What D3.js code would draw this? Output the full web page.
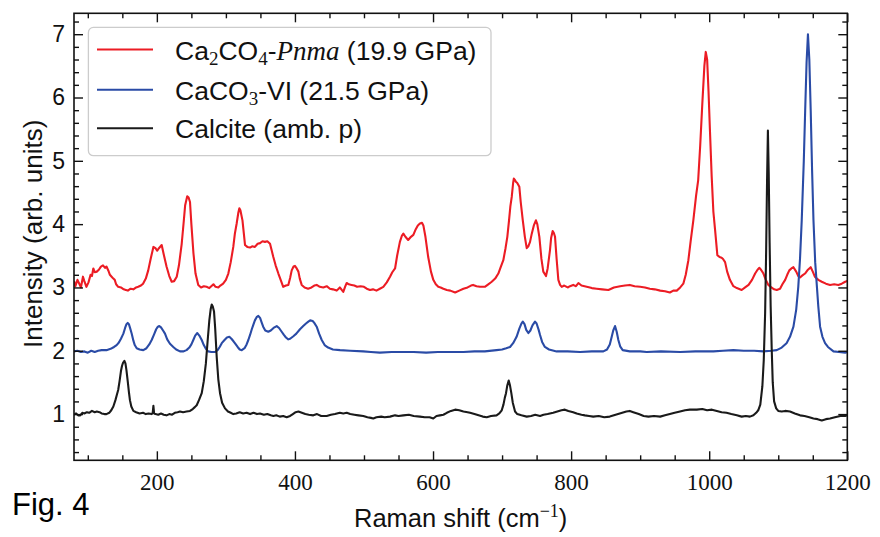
<!DOCTYPE html>
<html>
<head>
<meta charset="utf-8">
<script src="https://cdn.jsdelivr.net/npm/d3@7"></script>
<style>
  html, body { margin: 0; padding: 0; background: #fff; }
  svg { display: block; }
</style>
</head>
<body>
<svg id="chart" width="880" height="537"></svg>
<script>
// Raman spectra: [Raman shift (cm^-1), intensity (arb. units, offset)]
const pnmaSpectrum = [
  [80,3.10],[82,3.02],[85,3.12],[88,3.05],[90,3.0],[93,3.17],[95,3.10],[98,3.01],[101,3.08],[104,3.20],
  [106,3.18],[108,3.30],[110,3.24],[113,3.25],[116,3.28],[119,3.33],[122,3.35],[125,3.31],[127,3.33],[130,3.26],
  [132,3.20],[134.5,3.17],[137,3.14],[139,3.12],[141,3.05],[144,3.01],[148,3.0],[152,2.97],[155,2.96],[158,2.95],
  [162,2.98],[166,2.97],[170,3.0],[173,3.01],[177,3.03],[180,3.06],[184,3.14],[187.5,3.27],[191,3.45],[195,3.64],
  [198,3.62],[200.5,3.58],[203,3.62],[207,3.67],[210,3.52],[214,3.33],[218,3.18],[221.5,3.09],[225,3.10],[228.8,3.17],
  [232,3.35],[236,3.69],[239,4.05],[241,4.30],[244,4.44],[246,4.42],[248,4.35],[250,4.0],[253,3.54],[256,3.22],
  [260,3.04],[264,3.0],[268,3.02],[272,3.01],[276,2.99],[280,3.03],[282,3.05],[285,3.01],[289,3.0],[292,3.03],
  [296,3.06],[300,3.12],[303.5,3.22],[307,3.40],[310.7,3.64],[313,3.85],[315.6,4.01],[318,4.18],[319.5,4.25],[321,4.22],
  [324,4.06],[326,3.85],[327.7,3.67],[331,3.64],[335,3.63],[338,3.65],[342,3.64],[346,3.69],[349.4,3.70],[353,3.73],
  [356.6,3.72],[360,3.73],[363.9,3.69],[366,3.60],[368.7,3.48],[372,3.35],[376,3.22],[380,3.10],[383,3.01],[387,3.03],
  [390.4,3.04],[393,3.15],[395.3,3.27],[398,3.33],[400,3.34],[402,3.31],[405,3.25],[407,3.14],[409.8,3.04],[414,3.0],
  [419,2.98],[424,3.0],[428,3.03],[431.5,3.04],[436,3.01],[441,3.0],[446,3.02],[450.6,2.98],[455,2.97],[460.5,2.95],
  [465,3.0],[470,2.93],[473,3.02],[475,3.07],[478,3.05],[482,3.04],[486,3.03],[490,3.01],[495,3.02],[500,3.01],
  [504,2.98],[508.7,2.96],[513,2.97],[518,2.95],[523,2.98],[528,3.01],[533,3.08],[537.7,3.17],[541,3.24],[545,3.30],
  [548,3.50],[552,3.72],[555,3.82],[557,3.85],[560,3.80],[564,3.75],[568,3.80],[571.5,3.83],[575,3.92],[578,3.98],
  [581,4.01],[584,4.02],[586,3.98],[589,3.80],[593,3.48],[597,3.25],[600.4,3.12],[604,3.05],[607.6,3.01],[611,3.0],
  [615,2.98],[620,2.96],[625,2.95],[632,2.92],[638,2.95],[644,2.98],[650,3.0],[655,3.03],[658,3.04],[663,3.02],
  [668,3.01],[675,3.01],[680,3.05],[685,3.09],[690,3.14],[694.6,3.22],[698,3.32],[701.8,3.43],[705,3.62],[707.6,3.80],
  [710,4.05],[712,4.28],[714,4.43],[716,4.65],[717,4.72],[719,4.69],[720,4.67],[722,4.65],[725,4.59],[727,4.35],
  [730,4.06],[733,3.80],[735.7,3.62],[738,3.65],[740.5,3.72],[743,3.85],[746,3.98],[749,4.06],[751,4.00],[754,3.80],
  [757,3.45],[759.7,3.25],[763.6,3.18],[766,3.30],[769.4,3.59],[771,3.78],[773.3,3.89],[775,3.86],[776.7,3.80],[779,3.45],
  [781.5,3.12],[784,3.04],[786.4,3.01],[790,3.03],[795,3.0],[798.4,3.02],[803,3.04],[807,3.02],[810.5,3.07],[815,3.03],
  [822.6,3.01],[830,2.99],[837,2.98],[845,2.97],[854,2.96],[862,3.0],[871,3.02],[878,3.03],[885,3.04],[892,3.02],
  [900,3.01],[907,3.0],[914,2.98],[921,2.97],[929,2.95],[936,2.94],[943,2.92],[948,2.95],[953,2.95],[958,3.0],
  [962.5,3.06],[966,3.20],[969.8,3.43],[973,3.72],[977,4.06],[981,4.45],[984,4.69],[987,5.25],[990,5.90],[993,6.50],
  [995,6.72],[997,6.60],[999,6.10],[1001,5.50],[1003.6,4.75],[1006,4.2],[1008.5,3.91],[1011.8,3.51],[1015,3.48],[1018,3.47],
  [1020,3.45],[1023,3.40],[1026,3.25],[1030,3.12],[1035,3.02],[1040,2.99],[1047,2.96],[1052,3.0],[1057,3.04],[1062,3.12],
  [1066.5,3.22],[1070,3.28],[1072.7,3.31],[1075,3.28],[1078.5,3.22],[1082,3.12],[1085.7,3.04],[1090,3.0],[1094,2.97],[1097.8,2.96],
  [1102.6,2.98],[1106,3.05],[1110,3.12],[1113,3.20],[1116,3.27],[1119,3.30],[1122,3.32],[1126,3.25],[1129,3.18],[1131.6,3.16],
  [1135,3.19],[1138.8,3.22],[1143,3.28],[1147,3.32],[1150,3.25],[1153,3.17],[1158,3.12],[1163,3.09],[1169,3.06],[1175,3.04],
  [1181,3.05],[1187,3.04],[1192,3.06],[1197,3.09],[1200,3.10]
];

const caco3viSpectrum = [
  [80,1.99],[85,2.0],[90,1.98],[95,1.99],[100,1.97],[105,2.0],[110,1.98],[115,2.0],[120,2.01],[127,2.01],
  [133,2.03],[138,2.06],[141.8,2.09],[145,2.13],[148,2.19],[151.5,2.27],[154,2.36],[156,2.42],[157.8,2.44],[159.5,2.42],
  [161.5,2.35],[163.6,2.27],[166,2.16],[168,2.09],[170.8,2.04],[175,2.02],[180.4,2.01],[185,2.04],[189,2.10],[192.5,2.17],
  [196,2.26],[199,2.34],[201.5,2.38],[203.6,2.39],[206,2.37],[209,2.32],[211.8,2.27],[215,2.18],[219,2.11],[223.8,2.06],
  [228,2.02],[233.5,1.99],[238,1.99],[243,2.01],[247,2.05],[250,2.10],[252.8,2.17],[255.5,2.24],[258.6,2.28],[261.5,2.24],
  [265,2.17],[268,2.09],[271,2.03],[274.5,1.99],[279,1.98],[284,1.98],[288,2.01],[291,2.06],[294,2.12],[298,2.17],
  [301.5,2.21],[305,2.22],[308,2.19],[311,2.15],[313,2.12],[317,2.06],[320,2.02],[323,2.01],[327,2.04],[330,2.10],
  [332.5,2.17],[335,2.25],[337.5,2.34],[339.7,2.41],[342,2.48],[344.5,2.53],[347,2.55],[349.5,2.52],[352,2.44],[354,2.38],
  [357,2.32],[361.4,2.30],[365,2.32],[369,2.36],[373.6,2.39],[377,2.36],[380.8,2.30],[384,2.25],[387,2.21],[390.4,2.18],
  [393,2.19],[397.7,2.23],[402,2.27],[407.3,2.34],[412,2.39],[416,2.43],[419.4,2.46],[422,2.48],[425.7,2.47],[428,2.44],
  [431.5,2.38],[435,2.27],[438.8,2.17],[443,2.09],[448,2.05],[455,2.02],[465.3,2.01],[480,2.0],[499,1.99],[510,1.98],
  [523,1.97],[540,1.98],[560,1.98],[572,1.98],[590,1.97],[607,1.98],[625,1.98],[644,1.98],[660,1.99],[675,1.99],
  [692,2.01],[700,2.02],[706,2.04],[711.5,2.06],[716,2.12],[721,2.22],[725,2.35],[728,2.43],[730,2.46],[732.5,2.42],
  [735,2.33],[738,2.28],[741,2.32],[744,2.40],[747.7,2.46],[750,2.43],[753,2.33],[755,2.25],[758,2.14],[762,2.06],
  [768,2.02],[779,1.99],[795,1.99],[813,1.98],[830,1.99],[846.7,1.99],[852,2.02],[856,2.10],[858.8,2.22],[861,2.32],
  [863.6,2.39],[866,2.30],[868.4,2.17],[871,2.07],[874.7,2.01],[885,1.99],[900,1.99],[909.5,1.98],[930,1.99],[958,1.98],
  [980,1.99],[1006,1.99],[1020,2.0],[1035,2.01],[1050,2.0],[1065,2.0],[1078.5,1.99],[1090,2.0],[1097.8,2.01],[1105,2.05],
  [1112,2.12],[1117,2.22],[1122,2.38],[1126,2.65],[1129,3.01],[1131.5,3.45],[1134,4.06],[1137,5.0],[1139,5.8],[1141,6.55],
  [1143,7.0],[1145,6.6],[1147,5.8],[1149,4.85],[1151,4.06],[1153.5,3.40],[1156,3.01],[1158,2.70],[1160.6,2.38],[1164,2.22],
  [1167.8,2.12],[1172,2.06],[1180,1.99],[1188,1.98],[1197,1.97],[1200,1.98]
];

const calciteSpectrum = [
  [80,0.99],[83,1.01],[86,0.98],[89,0.98],[92,1.02],[95,1.01],[98.6,1.03],[102,1.02],[106,1.05],[110,1.03],
  [113,1.04],[117,1.03],[120,1.01],[124,1.0],[127,1.0],[131,1.02],[134,1.06],[137,1.12],[140,1.22],[142,1.30],
  [144,1.38],[146,1.52],[148,1.68],[149.5,1.76],[151,1.81],[153,1.84],[154.5,1.80],[156,1.69],[158,1.50],[159.5,1.35],
  [161,1.22],[163,1.12],[166,1.05],[170,1.03],[175,1.01],[180,1.02],[184,1.0],[188,1.01],[192.5,1.00],[194,1.02],
  [195,1.13],[196,1.01],[198,1.0],[202,0.99],[206,1.01],[210,0.99],[214,0.98],[218,1.0],[222,0.99],[226,1.02],
  [230,1.03],[233.5,1.04],[238,1.03],[243,1.04],[248,1.05],[252,1.08],[255,1.11],[257.7,1.14],[261,1.22],[265,1.33],
  [268,1.52],[271,1.80],[273.5,2.15],[276,2.48],[278,2.66],[279.5,2.73],[281,2.70],[282.8,2.62],[284.5,2.35],[286.7,1.90],
  [289,1.55],[291.5,1.33],[294.5,1.18],[298.7,1.09],[303,1.04],[307,1.02],[310.7,1.0],[315,1.01],[320,1.03],[325,1.01],
  [330,1.02],[335,1.0],[340,1.02],[345,1.0],[349.4,1.01],[355,0.99],[360,1.0],[365,0.98],[368.7,0.97],[373,0.98],
  [378,0.96],[383,0.97],[388,0.95],[393,0.97],[397,1.0],[401,1.03],[405,1.04],[410,1.02],[415,1.0],[420,0.99],
  [426.6,0.98],[432,1.0],[438,0.97],[446,0.97],[452,0.99],[458,1.0],[465,1.02],[470,1.01],[475,1.02],[480,1.0],
  [486,0.99],[492,0.98],[499,0.97],[505,0.95],[510,0.94],[513.5,0.93],[518,0.95],[525,0.96],[530,0.95],[537.7,0.96],
  [545,0.98],[550,0.97],[557,0.98],[565,0.99],[572,0.97],[581,0.96],[588,0.95],[595,0.95],[600.4,0.93],[605,0.97],
  [610,0.98],[615,0.99],[620,1.02],[626,1.05],[632,1.07],[638,1.06],[644,1.04],[650,1.03],[653.6,1.02],[660,1.0],
  [666,0.98],[672,0.96],[677.8,0.95],[684,0.97],[692,0.98],[696,1.01],[699.5,1.06],[702,1.15],[704,1.26],[705.7,1.33],
  [707.5,1.45],[709.6,1.53],[711.5,1.45],[713.4,1.33],[715.5,1.18],[718.8,1.04],[722,1.0],[728,0.98],[735.7,0.96],[742,0.97],
  [748,0.99],[755,0.97],[760,0.99],[766,1.0],[774,1.02],[780,1.04],[786,1.06],[791,1.07],[796,1.05],[803,1.03],
  [808,1.01],[815,0.99],[820,0.98],[826,0.97],[832,0.96],[840,0.97],[848,0.95],[856,0.96],[862,0.98],[868,1.0],
  [874,1.02],[880,1.04],[885,1.05],[890,1.03],[898,1.0],[905,0.97],[912,0.96],[920,0.97],[929,0.96],[936,0.98],
  [943,1.0],[950,1.02],[957.7,1.04],[965,1.06],[972,1.07],[982,1.07],[990,1.08],[997,1.06],[1004,1.07],[1011,1.05],
  [1018,1.03],[1025,1.02],[1032,1.0],[1040,0.98],[1047,0.96],[1053,0.97],[1059,0.96],[1064,0.98],[1068,1.02],[1071,1.06],
  [1074,1.15],[1077,1.44],[1079,1.85],[1081,2.6],[1082.5,3.6],[1083.8,4.7],[1085,5.48],[1086.2,4.8],[1087.5,3.7],[1089,2.7],
  [1090.6,2.0],[1092,1.5],[1094,1.2],[1097,1.09],[1100,1.05],[1105,1.04],[1110,1.05],[1117,1.04],[1124,1.01],[1131.6,0.98],
  [1138,0.97],[1145,0.95],[1151,0.93],[1157,0.92],[1163,0.90],[1169,0.92],[1175,0.93],[1182,0.95],[1190,0.97],[1197,0.97],
  [1200,0.98]
];

const seriesNames = ["pnma", "caco3vi", "calcite"];
const seriesColors = ["#ec1c24", "#2a4ba6", "#1a1a1a"];
const xMajorTicks = [200, 400, 600, 800, 1000, 1200];
const yMajorTicks = [1, 2, 3, 4, 5, 6, 7];

const svg = d3.select("#chart");
const frame = { left: 74, right: 847.3, top: 13.3, bottom: 460.3 };

const x = d3.scaleLinear().domain([80, 1200]).range([frame.left, frame.right]);
const y = d3.scaleLinear().domain([0.27, 7.33]).range([frame.bottom, frame.top]);

const xMinor = d3.range(100, 1200, 50).filter(v => v % 200 !== 0);
const yMinor = d3.range(0.4, 7.3, 0.2).map(v => +v.toFixed(1)).filter(v => Math.abs(v - Math.round(v)) > 1e-6);

svg.append("defs").append("clipPath").attr("id", "plotClip")
  .append("rect")
  .attr("x", frame.left).attr("y", frame.top)
  .attr("width", frame.right - frame.left).attr("height", frame.bottom - frame.top);

// spectra
const line = d3.line().x(d => x(d[0])).y(d => y(d[1]));
const spectra = [pnmaSpectrum, caco3viSpectrum, calciteSpectrum];
const plot = svg.append("g").attr("clip-path", "url(#plotClip)");
spectra.forEach((s, i) => {
  plot.append("path")
    .datum(s)
    .attr("class", "spectrum-" + seriesNames[i])
    .attr("fill", "none")
    .attr("stroke", seriesColors[i])
    .attr("stroke-width", 2.1)
    .attr("stroke-linejoin", "round")
    .attr("d", line);
});

// axes with inward ticks on all four sides
const majorLen = 9, minorLen = 5;
function styleAxis(g) {
  g.select(".domain").remove();
  g.selectAll(".tick line").attr("stroke", "#111").attr("stroke-width", 1.4);
}

const sans = "'Liberation Sans', Arial, sans-serif";
const serif = "'Liberation Serif', 'Times New Roman', serif";

svg.append("g").attr("transform", `translate(0,${frame.bottom})`)
  .call(d3.axisBottom(x).tickValues(xMajorTicks).tickSize(-majorLen).tickPadding(13).tickFormat(d3.format("d")))
  .call(styleAxis)
  .call(g => g.selectAll("text").attr("font-family", serif)
    .attr("font-size", 23).attr("fill", "#111"));
svg.append("g").attr("transform", `translate(0,${frame.bottom})`)
  .call(d3.axisBottom(x).tickValues(xMinor).tickSize(-minorLen).tickFormat(""))
  .call(styleAxis);
svg.append("g").attr("transform", `translate(0,${frame.top})`)
  .call(d3.axisTop(x).tickValues(xMajorTicks).tickSize(-majorLen).tickFormat(""))
  .call(styleAxis);
svg.append("g").attr("transform", `translate(0,${frame.top})`)
  .call(d3.axisTop(x).tickValues(xMinor).tickSize(-minorLen).tickFormat(""))
  .call(styleAxis);

svg.append("g").attr("transform", `translate(${frame.left},0)`)
  .call(d3.axisLeft(y).tickValues(yMajorTicks).tickSize(-majorLen).tickPadding(9).tickFormat(d3.format("d")))
  .call(styleAxis)
  .call(g => g.selectAll("text").attr("font-family", sans)
    .attr("font-size", 23).attr("fill", "#111"));
svg.append("g").attr("transform", `translate(${frame.left},0)`)
  .call(d3.axisLeft(y).tickValues(yMinor).tickSize(-minorLen).tickFormat(""))
  .call(styleAxis);
svg.append("g").attr("transform", `translate(${frame.right},0)`)
  .call(d3.axisRight(y).tickValues(yMajorTicks).tickSize(-majorLen).tickFormat(""))
  .call(styleAxis);
svg.append("g").attr("transform", `translate(${frame.right},0)`)
  .call(d3.axisRight(y).tickValues(yMinor).tickSize(-minorLen).tickFormat(""))
  .call(styleAxis);

svg.append("rect")
  .attr("x", frame.left).attr("y", frame.top)
  .attr("width", frame.right - frame.left).attr("height", frame.bottom - frame.top)
  .attr("fill", "none").attr("stroke", "#111").attr("stroke-width", 1.6);

// axis titles
const xTitle = svg.append("text")
  .attr("x", (frame.left + frame.right) / 2).attr("y", 527)
  .attr("text-anchor", "middle").attr("font-family", sans).attr("font-size", 25.5).attr("fill", "#111");
xTitle.append("tspan").text("Raman shift (cm");
xTitle.append("tspan").attr("dy", -10).attr("font-size", 18).attr("font-family", serif).text("\u22121");
xTitle.append("tspan").attr("dy", 10).text(")");

svg.append("text")
  .attr("transform", `translate(42,${(frame.top + frame.bottom) / 2 - 3}) rotate(-90)`)
  .attr("text-anchor", "middle").attr("font-family", sans).attr("font-size", 26).attr("fill", "#111")
  .text("Intensity (arb. units)");

// legend
const legend = svg.append("g");
legend.append("rect")
  .attr("x", 88.4).attr("y", 27.4).attr("width", 402.6).attr("height", 128.3).attr("rx", 5)
  .attr("fill", "#fff").attr("fill-opacity", 0.8).attr("stroke", "#cccccc").attr("stroke-width", 1.3);
const legendRows = [49.5, 89.7, 128.2];
legendRows.forEach((ly, i) => {
  legend.append("line").attr("x1", 97).attr("x2", 153).attr("y1", ly).attr("y2", ly)
    .attr("stroke", seriesColors[i]).attr("stroke-width", 2.1);
});
function legendText(ly) {
  return legend.append("text").attr("x", 175).attr("y", ly + 10)
    .attr("font-family", sans).attr("font-size", 26.5).attr("fill", "#111");
}
const t1 = legendText(legendRows[0]);
t1.append("tspan").text("Ca");
t1.append("tspan").attr("dy", 5).attr("font-size", 19).attr("font-family", serif).text("2");
t1.append("tspan").attr("dy", -5).text("CO");
t1.append("tspan").attr("dy", 5).attr("font-size", 19).attr("font-family", serif).text("4");
t1.append("tspan").attr("dy", -5).text("-");
t1.append("tspan").attr("font-family", serif).attr("font-style", "italic").attr("font-size", 27).text("Pnma");
t1.append("tspan").text(" (19.9 GPa)");
const t2 = legendText(legendRows[1]);
t2.append("tspan").text("CaCO");
t2.append("tspan").attr("dy", 5).attr("font-size", 19).attr("font-family", serif).text("3");
t2.append("tspan").attr("dy", -5).text("-VI (21.5 GPa)");
legendText(legendRows[2]).text("Calcite (amb. p)");

// figure tag
svg.append("text").attr("x", 12).attr("y", 515)
  .attr("font-family", sans).attr("font-size", 31).attr("fill", "#000").text("Fig. 4");
</script>
</body>
</html>
